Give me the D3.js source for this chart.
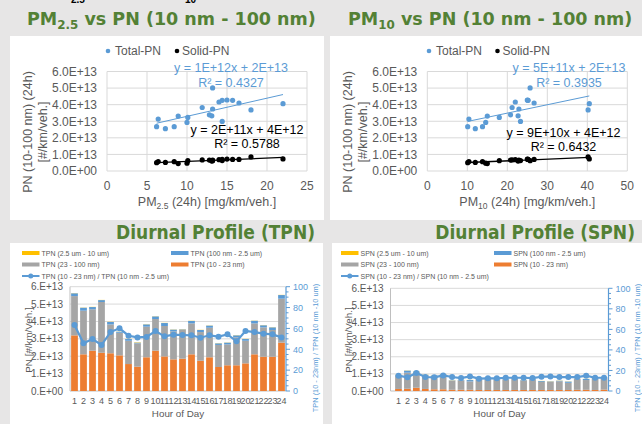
<!DOCTYPE html>
<html>
<head>
<meta charset="utf-8">
<script src="https://cdn.jsdelivr.net/npm/d3@7"></script>
<style>
  body { margin: 0; background: #e7e6e6; }
  svg { display: block; font-family: "Liberation Sans", Arial, sans-serif; }
  .title { font-family: "DejaVu Sans", Verdana, sans-serif; font-weight: bold; fill: #538135; }
  .tick { fill: #595959; }
</style>
</head>
<body>
<svg id="chart" width="642" height="424"></svg>
<script>
// scatter samples (PN in 1e13 #/km/veh.)
var pm25 = [6.2, 6.4, 7.3, 8.4, 8.9, 10.0, 10.1, 11.9, 12.8, 13.1, 13.2, 13.2, 14.0, 14.4, 14.4, 15.0, 15.7, 16.5, 18.0, 22.0];
var pm10 = [10.1, 10.4, 12.0, 13.8, 15.0, 14.6, 18.0, 21.2, 20.8, 22.7, 22.9, 25.7, 22.0, 25.2, 23.3, 25.0, 25.1, 26.7, 40.2, 40.5];
var totalPN = [2.67, 3.13, 2.55, 2.67, 3.31, 2.93, 3.23, 3.83, 3.39, 3.33, 3.74, 5.01, 4.16, 4.26, 2.99, 4.28, 4.26, 4.10, 3.68, 4.06];
var solidPN = [0.50, 0.57, 0.52, 0.56, 0.45, 0.47, 0.62, 0.67, 0.66, 0.60, 0.66, 0.62, 0.68, 0.70, 0.63, 0.72, 0.70, 0.70, 0.85, 0.73];
var eqPM25 = ["y = 1E+12x + 2E+13", "R² = 0.4327", "y = 2E+11x + 4E+12", "R² = 0.5788"];
var eqPM10 = ["y = 5E+11x + 2E+13", "R² = 0.3935", "y = 9E+10x + 4E+12", "R² = 0.6432"];

// diurnal profiles (1e13 #/km/veh.), ratio in %
var hours = ["1","2","3","4","5","6","7","8","9","10","11","12","13","14","15","16","17","18","19","20","21","22","23","24"];
var tpnOrange = [3.20, 2.11, 2.32, 2.20, 2.17, 2.05, 1.55, 1.40, 1.94, 2.32, 1.99, 1.82, 1.86, 2.11, 1.74, 1.94, 1.38, 1.48, 1.48, 1.59, 2.11, 1.97, 1.97, 2.78];
var tpnGrey = [2.26, 2.51, 2.38, 2.92, 1.66, 1.30, 1.34, 1.34, 1.76, 1.82, 1.75, 1.61, 1.67, 1.78, 1.65, 1.70, 1.27, 1.20, 1.61, 1.30, 1.78, 1.69, 1.54, 2.53];
var tpnBlue = [0.16, 0.17, 0.13, 0.11, 0.14, 0.06, 0.10, 0.04, 0.13, 0.15, 0.17, 0.10, 0.02, 0.14, 0.12, 0.12, 0.09, 0.10, 0.11, 0.10, 0.15, 0.12, 0.15, 0.21];
var tpnYellow = [0.01, 0.01, 0.01, 0.01, 0.01, 0.01, 0.01, 0.02, 0.01, 0.01, 0.01, 0.01, 0.01, 0.01, 0.01, 0.01, 0.01, 0.01, 0.01, 0.01, 0.01, 0.01, 0.01, 0.01];
var tpnRatio = [63.3, 45.7, 49.8, 44.1, 56.5, 60.1, 53.0, 51.4, 51.8, 57.5, 52.4, 54.0, 53.7, 53.4, 51.1, 53.4, 52.1, 54.3, 47.6, 57.5, 56.5, 55.0, 54.3, 51.4];

var spnOrange = [0.12, 0.13, 0.19, 0.12, 0.10, 0.10, 0.07, 0.07, 0.07, 0.06, 0.06, 0.06, 0.06, 0.06, 0.06, 0.06, 0.06, 0.06, 0.06, 0.06, 0.07, 0.07, 0.06, 0.08];
var spnGrey = [0.79, 0.94, 0.91, 0.80, 0.78, 0.84, 0.53, 0.55, 0.49, 0.70, 0.70, 0.62, 0.62, 0.68, 0.56, 0.62, 0.47, 0.48, 0.51, 0.42, 0.63, 0.57, 0.72, 0.70];
var spnBlue = [0.03, 0.12, 0.03, 0.02, 0.02, 0.03, 0.02, 0.02, 0.08, 0.02, 0.02, 0.02, 0.02, 0.02, 0.02, 0.02, 0.05, 0.02, 0.03, 0.07, 0.02, 0.06, 0.02, 0.02];
var spnYellow = [0.01, 0.01, 0.01, 0.01, 0.01, 0.01, 0.01, 0.01, 0.01, 0.01, 0.01, 0.01, 0.01, 0.01, 0.01, 0.01, 0.01, 0.01, 0.01, 0.01, 0.01, 0.01, 0.01, 0.01];
var spnRatio = [14.9, 13.3, 17.5, 13.6, 13.3, 15.2, 13.6, 12.6, 14.2, 12.0, 12.3, 12.3, 12.9, 12.9, 12.9, 12.6, 13.9, 14.2, 13.6, 13.6, 13.6, 14.9, 12.9, 12.9];

var tpnLegend = ["TPN (2.5 um - 10 um)", "TPN (100 nm - 2.5 um)", "TPN (23 - 100 nm)", "TPN (10 - 23 nm)", "TPN (10 - 23 nm) / TPN (10 nm - 2.5 um)"];
var spnLegend = ["SPN (2.5 um - 10 um)", "SPN (100 nm - 2.5 um)", "SPN (23 - 100 nm)", "SPN (10 - 23 nm)", "SPN (10 - 23 nm) / SPN (10 nm - 2.5 um)"];

var BLUE = "#5B9BD5", ORANGE = "#ED7D31", GREY = "#A5A5A5", YELLOW = "#FFC000";
var svg = d3.select("#chart");

// Excel style 6.0E+13 labels
function sci(d, dec) {
  if (d === 0) return (dec ? "0." + "0".repeat(dec) : "0.") + "E+00";
  var e = Math.floor(Math.log10(Math.abs(d)) + 1e-9);
  var m = d / Math.pow(10, e);
  var s = dec ? m.toFixed(dec) : m.toFixed(0) + ".";
  return s + "E+" + (e < 10 ? "0" + e : e);
}

function fit(xs, ys) {
  var mx = d3.mean(xs), my = d3.mean(ys);
  var sxy = d3.sum(xs, (v, i) => (v - mx) * (ys[i] - my));
  var sxx = d3.sum(xs, v => (v - mx) * (v - mx));
  var b = sxy / sxx;
  return { b: b, a: my - b * mx };
}

// panels
[[10, 36, 314, 184], [330, 36, 312, 184], [10, 243, 313, 181], [332, 243, 310, 181]].forEach(function (p) {
  svg.append("rect").attr("x", p[0]).attr("y", p[1]).attr("width", p[2]).attr("height", p[3]).attr("fill", "#fff");
});

// bits of text cut off at the top edge (as in the source)
svg.append("text").attr("x", 71).attr("y", 3).attr("font-size", 10).attr("font-weight", "bold").text("2.5");
svg.append("text").attr("x", 185).attr("y", 3).attr("font-size", 10).attr("font-weight", "bold").text("10");

// title with optional subscript: main, sub, rest
function title(x, y, size, anchor, main, sub, rest) {
  var t = svg.append("text").attr("class", "title").attr("x", x).attr("y", y)
    .attr("font-size", size).attr("text-anchor", anchor);
  t.append("tspan").text(main);
  if (sub) {
    t.append("tspan").attr("font-size", size * 0.68).attr("dy", 4).text(sub);
    t.append("tspan").attr("dy", -4).text(rest);
  }
  return t;
}
title(27, 25, 17.5, "start", "PM", "2.5", " vs PN (10 nm - 100 nm)");
title(348, 25, 17.5, "start", "PM", "10", " vs PN (10 nm - 100 nm)");
title(315, 239, 19, "end", "Diurnal Profile (TPN)").style("font-family", "'DejaVu Sans Condensed', 'DejaVu Sans', sans-serif");
title(635, 239, 19, "end", "Diurnal Profile (SPN)").style("font-family", "'DejaVu Sans Condensed', 'DejaVu Sans', sans-serif");

function drawScatter(o) {
  var g = svg.append("g");
  var x = d3.scaleLinear().domain([0, o.xMax]).range([o.x0, o.x0 + 200]);
  var y = d3.scaleLinear().domain([0, 6]).range([171, 71.5]);

  g.selectAll(null).data(y.ticks(6)).join("line")
    .attr("x1", x(0)).attr("x2", x(o.xMax))
    .attr("y1", d => y(d)).attr("y2", d => y(d))
    .attr("stroke", "#d9d9d9");
  g.selectAll(null).data(x.ticks(5)).join("line")
    .attr("x1", d => x(d)).attr("x2", d => x(d))
    .attr("y1", y(0)).attr("y2", y(6))
    .attr("stroke", "#d9d9d9");

  g.selectAll(null).data(y.ticks(6)).join("text").attr("class", "tick")
    .attr("x", o.x0 - 10).attr("y", d => y(d) + 4.3)
    .attr("text-anchor", "end").attr("font-size", 12)
    .text(d => sci(d * 1e13, 1));
  g.selectAll(null).data(x.ticks(5)).join("text").attr("class", "tick")
    .attr("x", d => x(d)).attr("y", 190)
    .attr("text-anchor", "middle").attr("font-size", 12)
    .text(d => d);

  // trendlines
  [[totalPN, BLUE, 1], [solidPN, "#000", 1.3]].forEach(function (s) {
    var f = fit(o.xs, s[0]);
    var ext = d3.extent(o.xs);
    g.append("line")
      .attr("x1", x(ext[0])).attr("x2", x(ext[1]))
      .attr("y1", y(f.a + f.b * ext[0])).attr("y2", y(f.a + f.b * ext[1]))
      .attr("stroke", s[1]).attr("stroke-width", s[2]);
  });

  g.selectAll(null).data(o.xs).join("circle")
    .attr("cx", d => x(d)).attr("cy", (d, i) => y(totalPN[i]))
    .attr("r", 2.6).attr("fill", BLUE);
  g.selectAll(null).data(o.xs).join("circle")
    .attr("cx", d => x(d)).attr("cy", (d, i) => y(solidPN[i]))
    .attr("r", 2.6).attr("fill", "#000");

  // legend
  g.append("circle").attr("cx", o.lx[0]).attr("cy", 51).attr("r", 2.3).attr("fill", BLUE);
  g.append("text").attr("class", "tick").attr("x", o.lx[0] + 7).attr("y", 55.3).attr("font-size", 12).text("Total-PN");
  g.append("circle").attr("cx", o.lx[1]).attr("cy", 51).attr("r", 2.3).attr("fill", "#000");
  g.append("text").attr("class", "tick").attr("x", o.lx[1] + 5).attr("y", 55.3).attr("font-size", 12).text("Solid-PN");

  // equations
  g.append("text").attr("x", o.eq[0]).attr("y", 72).attr("text-anchor", "middle").attr("font-size", 12.5).attr("fill", BLUE).text(o.eqs[0]);
  g.append("text").attr("x", o.eq[0]).attr("y", 87).attr("text-anchor", "middle").attr("font-size", 12.5).attr("fill", BLUE).text(o.eqs[1]);
  g.append("text").attr("x", o.eq[1]).attr("y", o.eq[2]).attr("text-anchor", "middle").attr("font-size", 12.5).attr("fill", "#000").text(o.eqs[2]);
  g.append("text").attr("x", o.eq[1]).attr("y", o.eq[2] + 14).attr("text-anchor", "middle").attr("font-size", 12.5).attr("fill", "#000").text(o.eqs[3]);

  // axis titles
  var yt = g.append("text").attr("class", "tick").attr("font-size", 12.5).attr("text-anchor", "middle")
    .attr("transform", "translate(" + o.yt + ",132) rotate(-90)");
  yt.append("tspan").attr("x", 0).attr("y", 0).text("PN (10-100 nm) (24h)");
  yt.append("tspan").attr("x", 0).attr("y", 15).text("[#/km/veh.]");

  var xt = g.append("text").attr("class", "tick").attr("font-size", 12.5).attr("text-anchor", "middle")
    .attr("x", o.x0 + 100).attr("y", 206);
  xt.append("tspan").text("PM");
  xt.append("tspan").attr("font-size", 8.5).attr("dy", 3).text(o.sub);
  xt.append("tspan").attr("dy", -3).text("  (24h) [mg/km/veh.]");
}

drawScatter({ xs: pm25, xMax: 25, x0: 107, lx: [108, 177], eq: [231, 247, 133.5], eqs: eqPM25, yt: 32, sub: "2.5" });
drawScatter({ xs: pm10, xMax: 50, x0: 427.3, lx: [429, 497.5], eq: [569, 563.5, 137], eqs: eqPM10, yt: 352, sub: "10" });

function drawDiurnal(o) {
  var g = svg.append("g");
  var x = d3.scaleBand().domain(hours).range([o.bx0, o.bx1]).paddingInner(0.25).paddingOuter(0.125);
  var y = d3.scaleLinear().domain([0, 6]).range([391, o.yTop]);
  var y2 = d3.scaleLinear().domain([0, 100]).range([391, o.yTop]);

  g.selectAll(null).data(y.ticks(6)).join("line")
    .attr("x1", o.ax0).attr("x2", o.bx1)
    .attr("y1", d => y(d)).attr("y2", d => y(d))
    .attr("stroke", d => d === 0 ? "#bfbfbf" : "#d9d9d9");
  g.append("line").attr("x1", o.ax0).attr("x2", o.ax0).attr("y1", y(0)).attr("y2", y(6)).attr("stroke", "#bfbfbf");

  var rows = hours.map((h, i) => ({ h: h, orange: o.orange[i], grey: o.grey[i], blue: o.blue[i], yellow: o.yellow[i], r: o.ratio[i] }));
  var colors = { orange: ORANGE, grey: GREY, blue: BLUE, yellow: YELLOW };
  var stack = d3.stack().keys(["orange", "grey", "blue", "yellow"])(rows);
  g.selectAll(null).data(stack).join("g").attr("fill", s => colors[s.key])
    .selectAll("rect").data(s => s).join("rect")
    .attr("x", d => x(d.data.h)).attr("width", x.bandwidth())
    .attr("y", d => y(d[1])).attr("height", d => y(d[0]) - y(d[1]));

  var line = d3.line().x(d => x(d.h) + x.bandwidth() / 2).y(d => y2(d.r));
  g.append("path").datum(rows).attr("d", line).attr("fill", "none").attr("stroke", BLUE).attr("stroke-width", 2.2);
  g.selectAll(null).data(rows).join("circle")
    .attr("cx", d => x(d.h) + x.bandwidth() / 2).attr("cy", d => y2(d.r))
    .attr("r", 3).attr("fill", BLUE);

  // left axis labels
  g.selectAll(null).data(y.ticks(6)).join("text").attr("class", "tick")
    .attr("x", o.ax0 - 7).attr("y", d => y(d) + 3.6)
    .attr("text-anchor", "end").attr("font-size", 10)
    .text(d => sci(d * 1e13, 0));
  g.selectAll(null).data(hours).join("text").attr("class", "tick")
    .attr("x", d => x(d) + x.bandwidth() / 2).attr("y", 403.5)
    .attr("text-anchor", "middle").attr("font-size", 9)
    .text(d => d);
  g.append("text").attr("class", "tick").attr("x", (o.ax0 + o.bx1) / 2).attr("y", 417)
    .attr("text-anchor", "middle").attr("font-size", 9.8).text("Hour of Day");
  g.append("text").attr("class", "tick").attr("font-size", 9.8).attr("text-anchor", "middle")
    .attr("transform", "translate(" + o.lt + ",340) rotate(-90)").text("PN [#/km/Veh.]");

  // right axis
  g.append("line").attr("x1", o.bx1).attr("x2", o.bx1).attr("y1", y2(0)).attr("y2", y2(100))
    .attr("stroke", BLUE).attr("stroke-width", 1.2);
  g.selectAll(null).data(y2.ticks(25)).join("line")
    .attr("x1", o.bx1).attr("x2", d => o.bx1 + (d % 20 === 0 ? 4 : 2.5))
    .attr("y1", d => y2(d)).attr("y2", d => y2(d))
    .attr("stroke", BLUE);
  g.selectAll(null).data(y2.ticks(5)).join("text")
    .attr("x", o.bx1 + 7).attr("y", d => y2(d) + 3.3)
    .attr("font-size", 9).attr("fill", BLUE)
    .text(d => d);
  g.append("text").attr("font-size", 7.4).attr("fill", BLUE).attr("text-anchor", "middle")
    .attr("transform", "translate(" + o.rt + ",348) rotate(-90)")
    .text("TPN (10 - 23nm) / TPN (10 nm -10 um)");

  // legend
  var leg = [[YELLOW, 0, 0], [BLUE, 1, 0], [GREY, 0, 1], [ORANGE, 1, 1]];
  leg.forEach(function (l, i) {
    var lx = o.lg[l[1]], ly = 253 + l[2] * 11.5;
    g.append("rect").attr("x", lx).attr("y", ly - 2).attr("width", 17.5).attr("height", 4).attr("fill", l[0]);
    g.append("text").attr("class", "tick").attr("x", lx + 19.5).attr("y", ly + 2.5).attr("font-size", 7).text(o.legend[i]);
  });
  g.append("line").attr("x1", o.lg[0]).attr("x2", o.lg[0] + 17.5).attr("y1", 276).attr("y2", 276)
    .attr("stroke", BLUE).attr("stroke-width", 2);
  g.append("circle").attr("cx", o.lg[0] + 8.75).attr("cy", 276).attr("r", 2.5).attr("fill", BLUE);
  g.append("text").attr("class", "tick").attr("x", o.lg[0] + 19.5).attr("y", 278.5).attr("font-size", 7).text(o.legend[4]);
}

drawDiurnal({ bx0: 70, bx1: 286, ax0: 70, yTop: 286.7, orange: tpnOrange, grey: tpnGrey, blue: tpnBlue, yellow: tpnYellow,
  ratio: tpnRatio, legend: tpnLegend, lg: [22, 171], lt: 31.5, rt: 318 });
drawDiurnal({ bx0: 394, bx1: 608.5, ax0: 390.5, yTop: 288.3, orange: spnOrange, grey: spnGrey, blue: spnBlue, yellow: spnYellow,
  ratio: spnRatio, legend: spnLegend, lg: [341, 494], lt: 351.5, rt: 640 });
</script>
</body>
</html>
